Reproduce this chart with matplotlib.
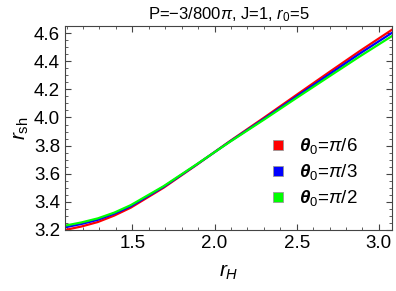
import matplotlib.pyplot as plt
from matplotlib.lines import Line2D
from matplotlib.ticker import MultipleLocator

plt.rcParams['font.family'] = ['Liberation Sans', 'DejaVu Sans']
plt.rcParams['mathtext.fontset'] = 'custom'
plt.rcParams['mathtext.rm'] = 'Liberation Sans'
plt.rcParams['mathtext.it'] = 'Liberation Sans:italic'
plt.rcParams['mathtext.bf'] = 'Liberation Sans:bold'
plt.rcParams['mathtext.bfit'] = 'Liberation Sans:bold:italic'

r_H = [1.085, 1.19, 1.29, 1.39, 1.49, 1.69, 1.89, 2.09, 2.30, 2.50, 2.70, 2.88, 3.08]
rsh_pi6 = [3.198, 3.224, 3.256, 3.302, 3.358, 3.500, 3.662, 3.829, 3.998, 4.162, 4.325, 4.470, 4.625]
rsh_pi3 = [3.217, 3.242, 3.272, 3.315, 3.368, 3.506, 3.664, 3.826, 3.990, 4.150, 4.309, 4.452, 4.603]
rsh_pi2 = [3.229, 3.253, 3.282, 3.323, 3.376, 3.511, 3.666, 3.824, 3.984, 4.140, 4.294, 4.432, 4.580]

labels = [r"$\boldsymbol{\theta}_0\text{=}\pi/6$",
          r"$\boldsymbol{\theta}_0\text{=}\pi/3$",
          r"$\boldsymbol{\theta}_0\text{=}\pi/2$"]
colors = ['#ff0000', '#0000ff', '#00ff00']

fig = plt.figure(figsize=(3.96, 2.91), dpi=100)
ax = fig.add_axes([0.164, 0.21, 0.826, 0.701])

ax.plot(r_H, rsh_pi6, color=colors[0], lw=1.6)
ax.plot(r_H, rsh_pi3, color=colors[1], lw=1.6)
ax.plot(r_H, rsh_pi2, color=colors[2], lw=1.6)

ax.set_xlim(1.09, 3.08)
ax.set_ylim(3.2, 4.652)
ax.xaxis.set_major_locator(MultipleLocator(0.5))
ax.xaxis.set_minor_locator(MultipleLocator(0.1))
ax.yaxis.set_major_locator(MultipleLocator(0.2))
ax.yaxis.set_minor_locator(MultipleLocator(0.05))
ax.tick_params(which='both', direction='in', top=True, right=True,
               labelsize=13.5, color='#444444')
ax.tick_params(which='major', length=4, width=0.8)
ax.tick_params(which='minor', length=2.5, width=0.6)
ax.xaxis.set_major_formatter(plt.FormatStrFormatter('%.1f'))
ax.yaxis.set_major_formatter(plt.FormatStrFormatter('%.1f'))
for s in ax.spines.values():
    s.set_color('#444444')
    s.set_linewidth(0.8)

ax.set_xlabel(r"$r_H$", fontsize=15, labelpad=8)
ax.set_ylabel(r"$r_{\rm sh}$", fontsize=15, labelpad=2)
ax.set_title(r"P=$-$3/800$\pi$, J=1, $r_0$=5", fontsize=12, pad=5)

handles = [Line2D([], [], ls='none', marker='s', markersize=7,
                  markerfacecolor=c, markeredgecolor='#999999', markeredgewidth=0.6)
           for c in colors]
ax.legend(handles, labels, loc='upper left', bbox_to_anchor=(0.60, 0.495),
          frameon=False, fontsize=13.5, handletextpad=0.6, labelspacing=0.32,
          handlelength=1.0, borderaxespad=0)

fig.savefig("out.png", dpi=100)
